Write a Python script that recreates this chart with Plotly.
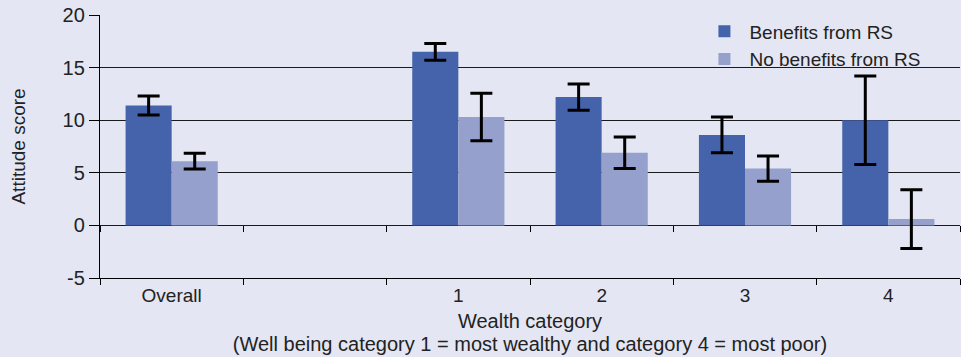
import plotly.graph_objects as go

# Attitude scores by wealth category, with error bars
categories = ["Overall", " ", "1", "2", "3", "4"]
benefits = [11.4, None, 16.5, 12.2, 8.6, 10.0]
benefits_err = [0.9, None, 0.8, 1.25, 1.7, 4.2]
no_benefits = [6.1, None, 10.3, 6.9, 5.4, 0.6]
no_benefits_err = [0.75, None, 2.25, 1.5, 1.2, 2.8]
y_ticks = [-5, 0, 5, 10, 15, 20]
y_tick_text = ["-5", "0", "5", "10", "15", "20"]

DARK = "#4563ab"
LIGHT = "#95a1cc"
BG = "#e4e6f3"
FONT = "Liberation Sans"

fig = go.Figure()
fig.add_trace(go.Bar(
    name="Benefits from RS", x=categories, y=benefits, marker_color=DARK,
    marker_line_width=0,
    error_y=dict(type="data", array=benefits_err, color="black", thickness=3, width=11),
))
fig.add_trace(go.Bar(
    name="No benefits from RS", x=categories, y=no_benefits, marker_color=LIGHT,
    marker_line_width=0,
    error_y=dict(type="data", array=no_benefits_err, color="black", thickness=3, width=11),
))
# carrier for the category ticks drawn along the zero line
fig.add_trace(go.Scatter(
    x=categories, y=[0] * len(categories), xaxis="x2", mode="lines",
    line=dict(width=0), opacity=0, showlegend=False, hoverinfo="skip",
))

fig.update_layout(
    width=961, height=357,
    margin=dict(l=100, r=1, t=15, b=79),
    paper_bgcolor=BG, plot_bgcolor=BG,
    font=dict(family=FONT, size=16, color="#222"),
    barmode="group", bargap=0.357, bargroupgap=0,
    showlegend=True,
    legend=dict(
        x=0.697, y=1.01, xanchor="left", yanchor="top",
        bgcolor="rgba(0,0,0,0)", font=dict(size=19, color="#222"),
        itemwidth=40, tracegroupgap=0,
    ),
    xaxis=dict(
        type="category", categoryorder="array", categoryarray=categories,
        range=[-0.5, 5.5], tickson="boundaries", ticks="outside", ticklen=6,
        tickcolor="black", tickwidth=1.3, showline=True, linecolor="black",
        linewidth=1.3, showgrid=False, tickfont=dict(size=19),
        title=dict(
            text="<span style='font-size:20px'>Wealth category</span><br>"
                 "<span style='font-size:20px'>(Well being category 1 = most wealthy "
                 "and category 4 = most poor)</span>",
            font=dict(size=18), standoff=10,
        ),
    ),
    xaxis2=dict(
        type="category", categoryorder="array", categoryarray=categories,
        range=[-0.5, 5.5], overlaying="x", anchor="free", position=0.2,
        side="bottom", tickson="boundaries", ticks="outside", ticklen=6,
        tickcolor="black", tickwidth=1.3, showticklabels=False,
        showline=False, showgrid=False,
    ),
    yaxis=dict(
        range=[-5, 20], tickvals=y_ticks, ticktext=y_tick_text,
        ticks="outside", ticklen=10,
        tickcolor="black", tickwidth=1.3, showline=True, linecolor="black",
        linewidth=1.3, showgrid=True, gridcolor="#1a1a1a", gridwidth=1.3,
        zeroline=True, zerolinecolor="#1a1a1a", zerolinewidth=1.3,
        tickfont=dict(size=20),
        title=dict(text="Attitude score", font=dict(size=19), standoff=31),
    ),
)

fig.write_html("out.html")
